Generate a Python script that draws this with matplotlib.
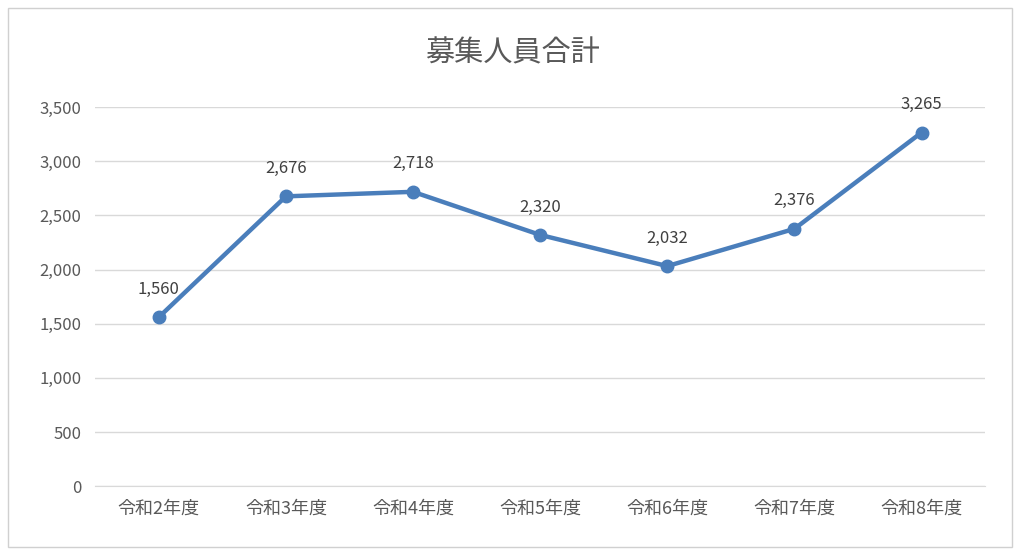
import matplotlib.pyplot as plt
from matplotlib.patches import Rectangle

plt.rcParams['font.family'] = ['Noto Sans CJK JP', 'DejaVu Sans']

years = ['令和2年度', '令和3年度', '令和4年度', '令和5年度', '令和6年度', '令和7年度', '令和8年度']
totals = [1560, 2676, 2718, 2320, 2032, 2376, 3265]
yticks = [0, 500, 1000, 1500, 2000, 2500, 3000, 3500]

fig = plt.figure(figsize=(10.24, 5.55), dpi=100)
ax = fig.add_axes([0.093, 0.124, 0.869, 0.683])

# chart frame
fig.patches.append(Rectangle((0.008, 0.014), 0.98, 0.972, transform=fig.transFigure,
                             fill=False, edgecolor='#d0d0d0', linewidth=1))

x = list(range(len(years)))
ax.plot(x, totals, color='#4a7ebb', linewidth=3.2, marker='o', markersize=9, zorder=3)
for xi, v in zip(x, totals):
    ax.annotate(f'{v:,}', (xi, v), xytext=(0, 14), textcoords='offset points',
                ha='center', va='bottom', fontsize=12, color='#404040')

ax.set_xlim(-0.5, len(years) - 0.5)
ax.set_ylim(0, 3500)
ax.set_xticks(x)
ax.set_xticklabels(years, fontsize=13)
ax.set_yticks(yticks)
ax.set_yticklabels([f'{t:,}' for t in yticks])
ax.tick_params(axis='y', length=0, labelsize=12, colors='#595959', pad=10)
ax.tick_params(axis='x', length=0, colors='#595959', pad=10)
ax.grid(axis='y', color='#d9d9d9', linewidth=1)
ax.set_axisbelow(True)
for s in ['top', 'right', 'left']:
    ax.spines[s].set_visible(False)
ax.spines['bottom'].set_color('#d9d9d9')

fig.text(0.5, 0.903, '募集人員合計', ha='center', va='center', fontsize=21, color='#595959')

fig.savefig('out.png', dpi=100)
